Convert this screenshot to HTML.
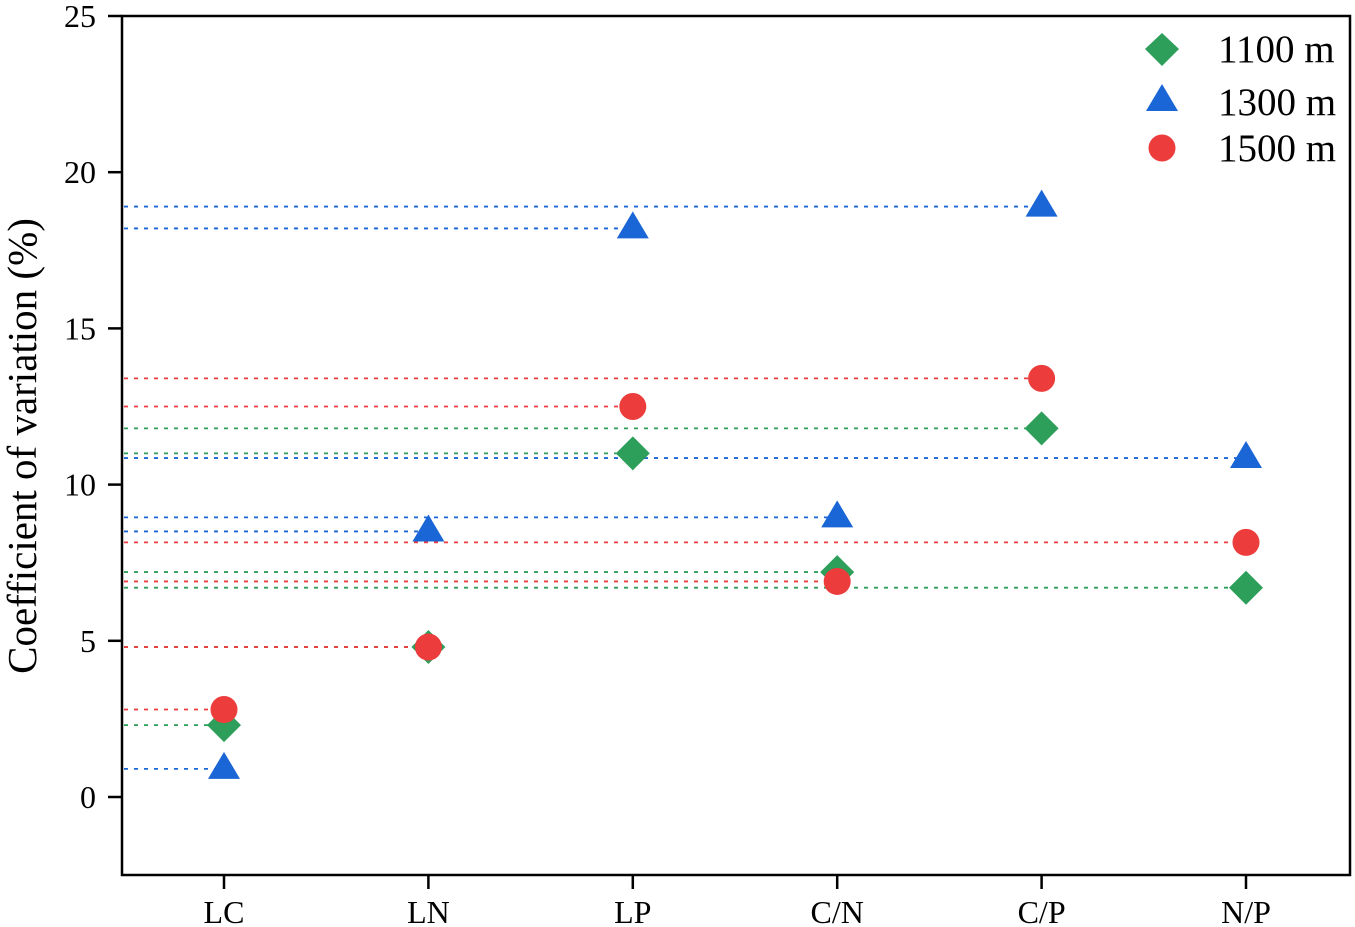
<!DOCTYPE html>
<html><head><meta charset="utf-8"><style>body{margin:0;background:#fff}svg{display:block;font-family:"Liberation Serif",serif}</style></head>
<body>
<svg id="chart" width="1355" height="927" viewBox="0 0 1355 927">
<rect x="122" y="16" width="1228" height="859" fill="none" stroke="#000" stroke-width="2.5"/>
<g id="axes"></g><g id="lines"></g><g id="marks"></g>
<text transform="translate(36,446) rotate(-90)" text-anchor="middle" font-size="41">Coefficient of variation (%)</text>
<g>
<polygon points="1162,33 1179,49 1162,66 1145,49" fill="#2e9e5b"/>
<text x="1218" y="62" font-size="39">1100 m</text>
<polygon points="1162,84 1178,111 1146,111" fill="#1a66d6"/>
<text x="1218" y="115" font-size="39">1300 m</text>
<circle cx="1162" cy="148" r="13.5" fill="#ec3c3c"/>
<text x="1218" y="161" font-size="39">1500 m</text>
</g>
</svg>
<script>
const categories=["LC","LN","LP","C/N","C/P","N/P"];
const v1100=[2.3,4.8,11.0,7.2,11.8,6.7];
const v1300=[0.9,8.5,18.2,8.95,18.9,10.85];
const v1500=[2.8,4.8,12.5,6.9,13.4,8.15];
const yTicks=[0,5,10,15,20,25];
const NS="http://www.w3.org/2000/svg";
const y=v=>797-(v*(797-16)/25);
const x=i=>224+i*204.4;
function mk(t,a,p){const e=document.createElementNS(NS,t);for(const k in a)e.setAttribute(k,a[k]);document.getElementById(p).appendChild(e);return e;}
yTicks.forEach(t=>{
 const l=mk("line",{x1:108,x2:122,y1:y(t),y2:y(t),stroke:"#000","stroke-width":2.5},"axes");
 
 
 const tx=mk("text",{x:96,y:y(t)+11,"text-anchor":"end","font-size":32},"axes");tx.textContent=t;
 
 
});
categories.forEach((c,i)=>{
 const l=mk("line",{x1:x(i),x2:x(i),y1:875,y2:889,stroke:"#000","stroke-width":2.5},"axes");
 
 
 const tx=mk("text",{x:x(i),y:923,"text-anchor":"middle","font-size":32},"axes");tx.textContent=c;
 
 
});
const series=[[v1100,"#2e9e5b","d"],[v1300,"#1a66d6","t"],[v1500,"#ec3c3c","c"]];
series.forEach(([vals,col,sh])=>{
 vals.forEach((v,i)=>{
  const l=mk("line",{x1:124,x2:x(i),y1:y(v),y2:y(v),stroke:col,"stroke-width":1.8,"stroke-dasharray":"4,6"},"lines");
  
  
 });
});
series.forEach(([vals,col,sh])=>{
 vals.forEach((v,i)=>{
  const cx=x(i),cy=y(v);let e;
  if(sh=="d")e=mk("polygon",{points:`${cx},${cy-17} ${cx+17},${cy} ${cx},${cy+17} ${cx-17},${cy}`,fill:col},"marks");
  else if(sh=="t")e=mk("polygon",{points:`${cx},${cy-17} ${cx+16},${cy+10} ${cx-16},${cy+10}`,fill:col},"marks");
  else e=mk("circle",{cx:cx,cy:cy,r:13.5,fill:col},"marks");
  
  
 });
});
</script>
</body></html>
